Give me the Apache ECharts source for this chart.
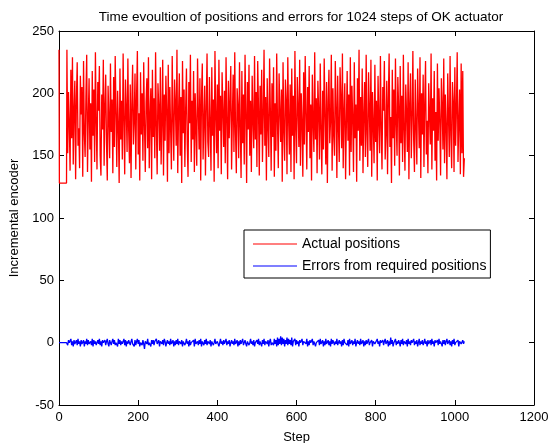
<!DOCTYPE html>
<html>
<head>
<meta charset="utf-8">
<script src="https://cdn.jsdelivr.net/npm/echarts@6/dist/echarts.min.js"></script>
<style>
html,body{margin:0;padding:0;background:#fff;}
#chart{width:548px;height:443px;}
</style>
</head>
<body>
<div id="chart"></div>
<script>
// ---- data ----
const titleText = 'Time evoultion of positions and errors for 1024 steps of OK actuator';
const seriesNames = ['Actual positions', 'Errors from required positions'];
const xTicks = [0, 200, 400, 600, 800, 1000, 1200];
const yTicks = [-50, 0, 50, 100, 150, 200, 250];

// initial segment (steps read individually)
const headSteps = [0, 1, 19];
const headPositions = [235, 128, 128];
const headErrors = [0, 0, 0];

// noisy segment: one value every 2 steps, from step 20 to step 1024
const noiseFirstStep = 20;
const noiseStepEvery = 2;
const positions = [
  235, 152, 201, 176, 138, 219, 164, 229, 143, 187, 210, 131, 196, 225, 158, 172, 140, 214, 183, 205,
  133, 226, 168, 149, 197, 231, 137, 180, 212, 155, 192, 129, 218, 166, 203, 145, 233, 177, 139, 209,
  186, 222, 150, 134, 199, 171, 227, 142, 190, 215, 160, 130, 206, 181, 148, 224, 169, 195, 136, 213,
  157, 230, 185, 141, 202, 174, 128, 220, 163, 194, 147, 232, 179, 135, 211, 188, 153, 228, 170, 144,
  207, 132, 191, 223, 159, 178, 216, 139, 198, 234, 151, 184, 130, 217, 167, 200, 146, 225, 175, 137,
  193, 212, 156, 229, 140, 182, 204, 131, 219, 165, 196, 148, 233, 173, 135, 208, 189, 154, 221, 143,
  177, 227, 134, 199, 162, 214, 186, 129, 223, 152, 205, 171, 139, 230, 180, 146, 211, 192, 158, 235,
  136, 184, 216, 150, 197, 128, 226, 168, 203, 141, 188, 220, 159, 133, 209, 176, 231, 145, 194, 163,
  218, 137, 200, 172, 142, 228, 185, 155, 212, 130, 196, 224, 147, 178, 206, 134, 189, 232, 161, 149,
  213, 175, 138, 221, 166, 195, 129, 234, 183, 152, 207, 140, 227, 170, 198, 135, 217, 187, 157, 202,
  144, 229, 179, 131, 210, 164, 193, 222, 139, 181, 215, 153, 233, 168, 136, 204, 190, 148, 225, 173,
  132, 218, 160, 199, 143, 231, 185, 128, 209, 171, 223, 150, 194, 137, 214, 178, 156, 230, 163, 201,
  141, 226, 188, 134, 206, 167, 219, 145, 182, 235, 158, 197, 130, 212, 174, 149, 228, 186, 138, 208,
  165, 221, 133, 192, 154, 232, 176, 140, 216, 187, 161, 203, 129, 225, 170, 146, 211, 195, 135, 229,
  180, 151, 207, 137, 220, 166, 198, 131, 234, 172, 144, 213, 189, 157, 227, 142, 200, 177, 133, 217,
  159, 230, 184, 139, 205, 169, 222, 148, 191, 130, 215, 176, 153, 233, 163, 196, 136, 210, 186, 147,
  224, 171, 135, 202, 155, 228, 182, 143, 209, 128, 193, 219, 160, 178, 231, 138, 204, 167, 150, 226,
  190, 132, 214, 173, 145, 221, 197, 156, 232, 140, 185, 208, 131, 175, 218, 162, 199, 134, 229, 153,
  206, 180, 137, 225, 164, 191, 129, 212, 170, 235, 146, 197, 158, 220, 136, 183, 209, 149, 231, 168,
  141, 217, 188, 154, 227, 133, 201, 175, 144, 223, 161, 194, 130, 214, 179, 152, 230, 172, 139, 205,
  186, 226, 147, 168, 210, 135, 195, 232, 157, 181, 128, 219, 164, 203, 142, 228, 176, 150, 213, 189,
  134, 222, 160, 198, 145, 231, 170, 138, 207, 184, 153, 225, 131, 192, 216, 148, 179, 234, 163, 137,
  211, 174, 143, 220, 187, 156, 229, 132, 200, 167, 215, 141, 193, 226, 151, 178, 136, 208, 183, 159,
  232, 139, 196, 170, 218, 146, 185, 130, 224, 162, 204, 177, 134, 212, 190, 155, 228, 144, 199, 173,
  131, 216, 181, 149, 230, 166, 140, 209, 194, 137, 221, 158, 187, 233, 145, 176, 203, 135, 224, 152,
  218, 133, 148
];
const errors = [
  1, -2, 2, 0, -1, 3, -2, 1, -3, 2, -1, 0, 2, -2, 3, -1, 1, -3, 2, -1,
  0, 2, -3, 1, -1, 3, -2, 2, -1, 0, 1, -2, 3, -3, 2, -1, 1, -2, 0, 2,
  -1, 3, -2, 1, -3, 2, 0, -1, 2, -2, 1, 3, -1, -3, 2, 0, -2, 1, 3, -1,
  2, -2, 0, 1, -3, 3, -1, 2, -2, 1, -1, 0, 3, -2, 2, -3, 1, -1, 2, 0,
  -2, 1, 3, -1, 0, -3, 2, -2, 1, 3, -1, 2, -3, 0, 1, -2, 2, -1, -5, 1,
  2, -1, 3, -2, 0, 1, -3, 2, -1, 2, -2, 1, 0, 3, -1, -2, 2, -3, 1, 0,
  -1, 2, -2, 3, 1, -3, 0, 2, -1, 1, -2, 3, -1, 0, 2, -3, 1, -2, 2, -1,
  3, -2, 1, 0, -1, 2, -3, 1, 2, -2, 0, 3, -1, 1, -3, 2, -2, 0, 1, -1,
  2, -3, 3, -1, 0, 1, -2, 2, -1, 3, -3, 1, 0, -2, 2, -1, 3, -2, 1, 0,
  -1, 2, -3, 1, 2, -2, 0, 3, -1, -2, 1, 2, -3, 0, 3, -1, 1, -2, 2, -1,
  0, 3, -2, 1, -1, 2, -3, 0, 2, -1, 1, -2, 3, -1, 0, 2, -3, 1, -2, 2,
  -1, 1, 3, -2, 0, 2, -1, -3, 1, 2, -2, 0, 3, -1, 1, -2, 2, -3, 0, 1,
  2, -1, 3, -2, 1, 0, -3, 2, -1, 3, -2, 1, 0, -1, 2, -3, 1, 3, -2, 0,
  1, -2, 3, -1, 2, -3, 4, -2, 3, -1, 5, -2, 4, -1, 3, -3, 2, -1, 4, -2,
  3, -1, 2, -2, 4, -3, 1, 0, 3, -2, 2, -1, 1, -3, 2, 0, -1, 3, -2, 1,
  0, 2, -1, 3, -3, 1, -2, 2, 0, -1, 3, -2, 1, 2, -3, 0, 1, -1, 2, -2,
  3, -1, 0, 2, -3, 1, -2, 3, -1, 0, 2, -2, 1, -3, 3, -1, 2, 0, -2, 1,
  -1, 3, -2, 0, 2, -1, 1, -3, 2, -2, 3, 0, -1, 1, -2, 2, -3, 3, -1, 0,
  2, -2, 1, -1, 3, -3, 0, 2, -1, 1, -2, 3, -1, 0, 2, -3, 1, -2, 2, -1,
  1, 3, -2, 0, -1, 2, -3, 1, 2, -1, 0, -2, 3, -1, 1, -3, 2, 0, -1, 2,
  -2, 1, 3, -1, 0, 2, -3, 1, -2, 4, -1, 2, -3, 0, 1, 3, -2, 1, -1, 2,
  0, -3, 2, -1, 3, -2, 1, 0, -1, 2, -3, 3, -1, 1, -2, 2, 0, -1, 3, -2,
  1, -1, 2, -3, 0, 3, -2, 1, -1, 2, -2, 0, 3, -1, 1, -3, 2, -1, 0, 2,
  -2, 3, -1, 1, -3, 2, 0, -1, 2, -2, 3, -1, 1, 0, -3, 2, -1, 2, -2, 1,
  3, -1, 0, 2, -2, 1, -3, 2, -1, 3, -2, 0, 1, -1, 2, -3, 1, 2, -1, 0,
  2, -1, 1
];

// ---- build ----
function build(head, vals) {
  const out = headSteps.map((s, i) => [s, head[i]]);
  vals.forEach((v, i) => out.push([noiseFirstStep + i * noiseStepEvery, v]));
  return out;
}
const FONT = 'Liberation Sans, Arial, Helvetica, sans-serif';
const axisCommon = {
  axisLine: { show: true, onZero: false, lineStyle: { color: '#000', width: 1 } },
  axisTick: { show: true, inside: true, length: 5, lineStyle: { color: '#000' } },
  splitLine: { show: false }
};
const chart = echarts.init(document.getElementById('chart'), null, { renderer: 'canvas' });
chart.setOption({
  animation: false,
  backgroundColor: '#fff',
  title: {
    text: titleText, left: 296, top: 5, textAlign: 'center',
    textStyle: { fontFamily: FONT, fontSize: 13.5, fontWeight: 'normal', color: '#000' }
  },
  grid: { left: 59, right: 14, top: 31, bottom: 38, outerBoundsMode: 'none', containLabel: false },
  legend: {
    orient: 'vertical', left: 244, top: 230,
    backgroundColor: '#fff', borderColor: '#000', borderWidth: 1, borderRadius: 0,
    padding: [7, 4, 5, 9], itemGap: 8, itemWidth: 44, itemHeight: 1, icon: 'rect',
    textStyle: { fontFamily: FONT, fontSize: 14, color: '#000', padding: [0, 0, 0, 0] },
    data: seriesNames
  },
  xAxis: [
    Object.assign({
      type: 'value', min: xTicks[0], max: xTicks[xTicks.length - 1], interval: 200,
      name: 'Step', nameLocation: 'middle', nameGap: 26,
      nameTextStyle: { fontFamily: FONT, fontSize: 13, color: '#000' },
      axisLabel: { fontFamily: FONT, fontSize: 13, color: '#000', margin: 6, formatter: v => String(v) }
    }, axisCommon),
    Object.assign({
      type: 'value', position: 'top', min: xTicks[0], max: xTicks[xTicks.length - 1], interval: 200,
      axisLabel: { show: false }
    }, axisCommon)
  ],
  yAxis: [
    Object.assign({
      type: 'value', min: yTicks[0], max: yTicks[yTicks.length - 1], interval: 50,
      name: 'Incremental encoder', nameLocation: 'middle', nameGap: 38,
      nameTextStyle: { fontFamily: FONT, fontSize: 13, color: '#000' },
      axisLabel: { fontFamily: FONT, fontSize: 13, color: '#000', margin: 5, formatter: v => String(v) }
    }, axisCommon),
    Object.assign({
      type: 'value', position: 'right', min: yTicks[0], max: yTicks[yTicks.length - 1], interval: 50,
      axisLabel: { show: false }
    }, axisCommon)
  ],
  series: [
    {
      name: seriesNames[0], type: 'line', showSymbol: false, symbol: 'none', sampling: null,
      xAxisIndex: 0, yAxisIndex: 0,
      color: '#ff0000', lineStyle: { color: '#ff0000', width: 1.3 },
      data: build(headPositions, positions)
    },
    {
      name: seriesNames[1], type: 'line', showSymbol: false, symbol: 'none', sampling: null,
      xAxisIndex: 0, yAxisIndex: 0,
      color: '#0000ff', lineStyle: { color: '#0000ff', width: 1.3 },
      data: build(headErrors, errors)
    }
  ]
});
</script>
</body>
</html>
